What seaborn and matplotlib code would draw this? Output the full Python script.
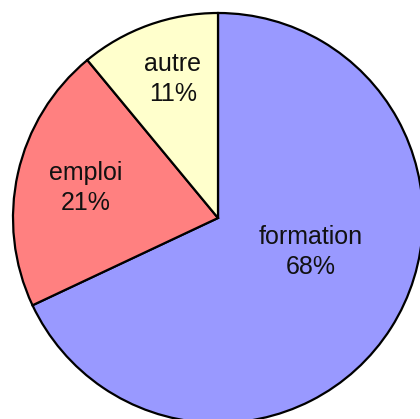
#!/usr/bin/python3
import numpy as np
import matplotlib
matplotlib.use('Agg')
import matplotlib.pyplot as plt
import seaborn as sns

categories = ['formation', 'emploi', 'autre']
shares = [68, 21, 11]
colors = ['#9999ff', '#ff8080', '#ffffcc']

# label offsets from centre, in pie radii (hand placed, like the original)
label_pos = [(0.454, -0.166), (-0.644, 0.146), (-0.221, 0.678)]

sns.set_style('white')
plt.rcParams['font.family'] = ['Liberation Sans', 'DejaVu Sans']

fig = plt.figure(figsize=(4.2, 4.19), dpi=100)
ax = fig.add_axes([0, 0, 1, 1])

wedges, _ = ax.pie(shares, colors=sns.color_palette(colors), startangle=90,
                   counterclock=False, radius=1,
                   wedgeprops=dict(edgecolor='black', linewidth=1.6))

for name, val, (x, y) in zip(categories, shares, label_pos):
    ax.text(x, y, f'{name}\n{val}%', ha='center', va='center',
            fontsize=18, linespacing=1.3, color='#111111')

# centre of pie at pixel (218, 218), radius 205 px
px = 205.0
ax.set_xlim(-218 / px, (420 - 218) / px)
ax.set_ylim(-(419 - 218) / px, 218 / px)
ax.set_aspect('auto')
ax.axis('off')

fig.savefig('out.png', dpi=100)
